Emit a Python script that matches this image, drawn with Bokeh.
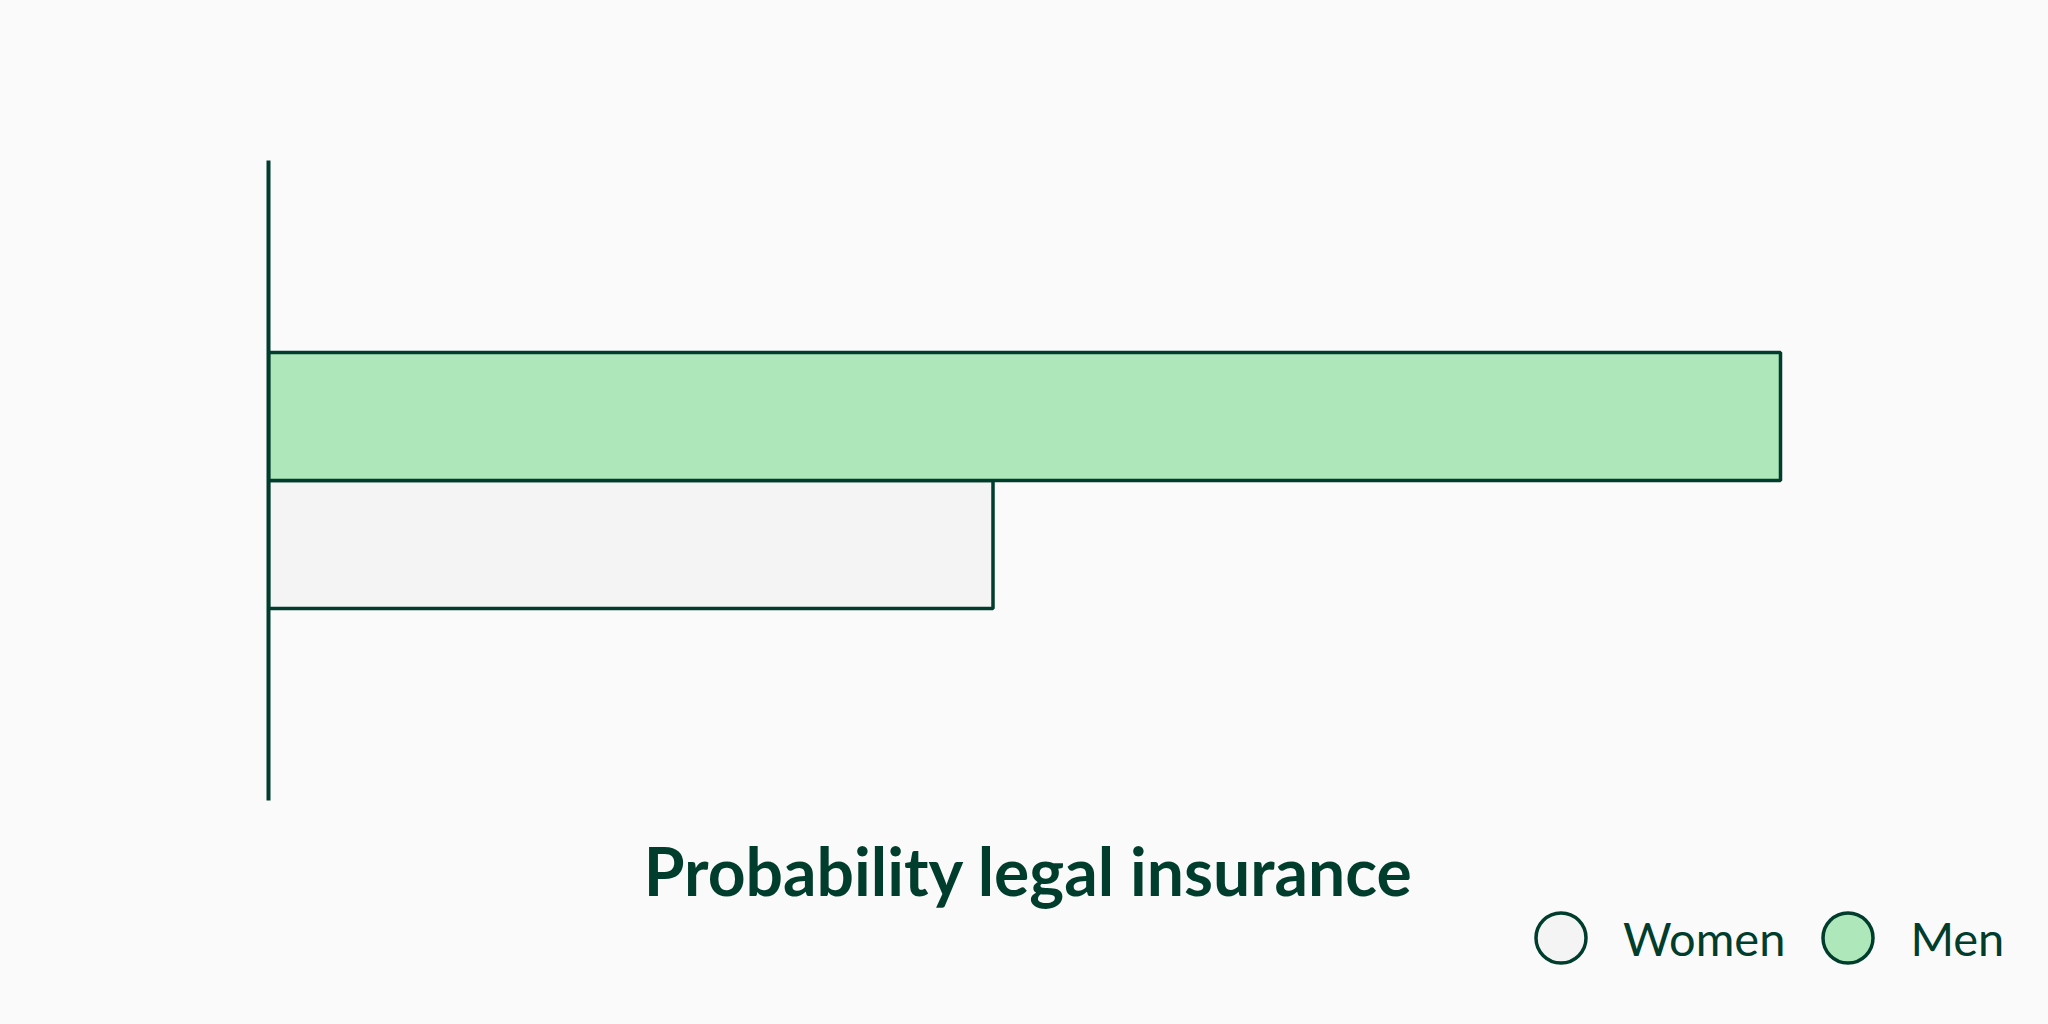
from bokeh.plotting import figure
from bokeh.models import Range1d, Label, Legend, LegendItem, ColumnDataSource, FixedTicker
from bokeh.embed import file_html
from bokeh.resources import INLINE

# data
groups = ["Women", "Men"]
probability = [0.115, 0.24]
bar_colors = ["#F4F4F4", "#AEE7BA"]
chart_title = "Probability legal insurance"

DARK = "#003D2C"
BG = "#FAFAFA"

# bars sit next to each other around 0 on the y scale
ypos = [i - (len(groups) - 1) / 2 for i in range(len(groups))]
source = ColumnDataSource(data=dict(group=groups, y=ypos, prob=probability, color=bar_colors))

p = figure(width=2040, height=1016,
           x_range=Range1d(0, max(probability) * 1772 / 1512),
           y_range=Range1d(-4.1875, 2.5),
           min_border_left=268, min_border_right=0,
           min_border_top=160, min_border_bottom=0,
           output_backend="svg", toolbar_location=None, title=None)

p.hbar(y="y", right="prob", height=1.0, source=source,
       fill_color="color", line_color=DARK, line_width=3.5)

# legend markers: renderers with a single NaN point, so only the legend shows them
legend_items = []
for g, c in zip(groups, bar_colors):
    r = p.scatter(x=[float("nan")], y=[float("nan")], marker="circle",
                  fill_color=c, line_color=DARK, line_width=3.5)
    legend_items.append(LegendItem(label=g, renderers=[r]))

legend = Legend(items=legend_items, orientation="horizontal", location=(1230, 16),
                glyph_width=125, glyph_height=125, label_standoff=0, spacing=0,
                padding=0, margin=0, border_line_color=None, background_fill_alpha=0,
                label_text_font="Lato", label_text_font_size="47px", label_text_color=DARK)
p.add_layout(legend, "center")

title = Label(x=760, y=146, x_units="screen", y_units="screen", text=chart_title,
              text_align="center", text_baseline="alphabetic",
              text_font="Lato", text_font_style="bold", text_font_size="66px",
              text_color=DARK)
p.add_layout(title)

p.xaxis.visible = False
p.yaxis.bounds = (-2.5, 2.5)
p.yaxis.ticker = FixedTicker(ticks=[])
p.yaxis.axis_line_color = DARK
p.yaxis.axis_line_width = 4
p.yaxis.major_tick_line_color = None
p.yaxis.minor_tick_line_color = None
p.xgrid.grid_line_color = None
p.ygrid.grid_line_color = None
p.outline_line_color = None
p.background_fill_color = BG
p.border_fill_color = BG

html = file_html(p, INLINE)
html = html.replace("<body>", '<body style="background:%s">' % BG)
open("out.html", "w").write(html)
